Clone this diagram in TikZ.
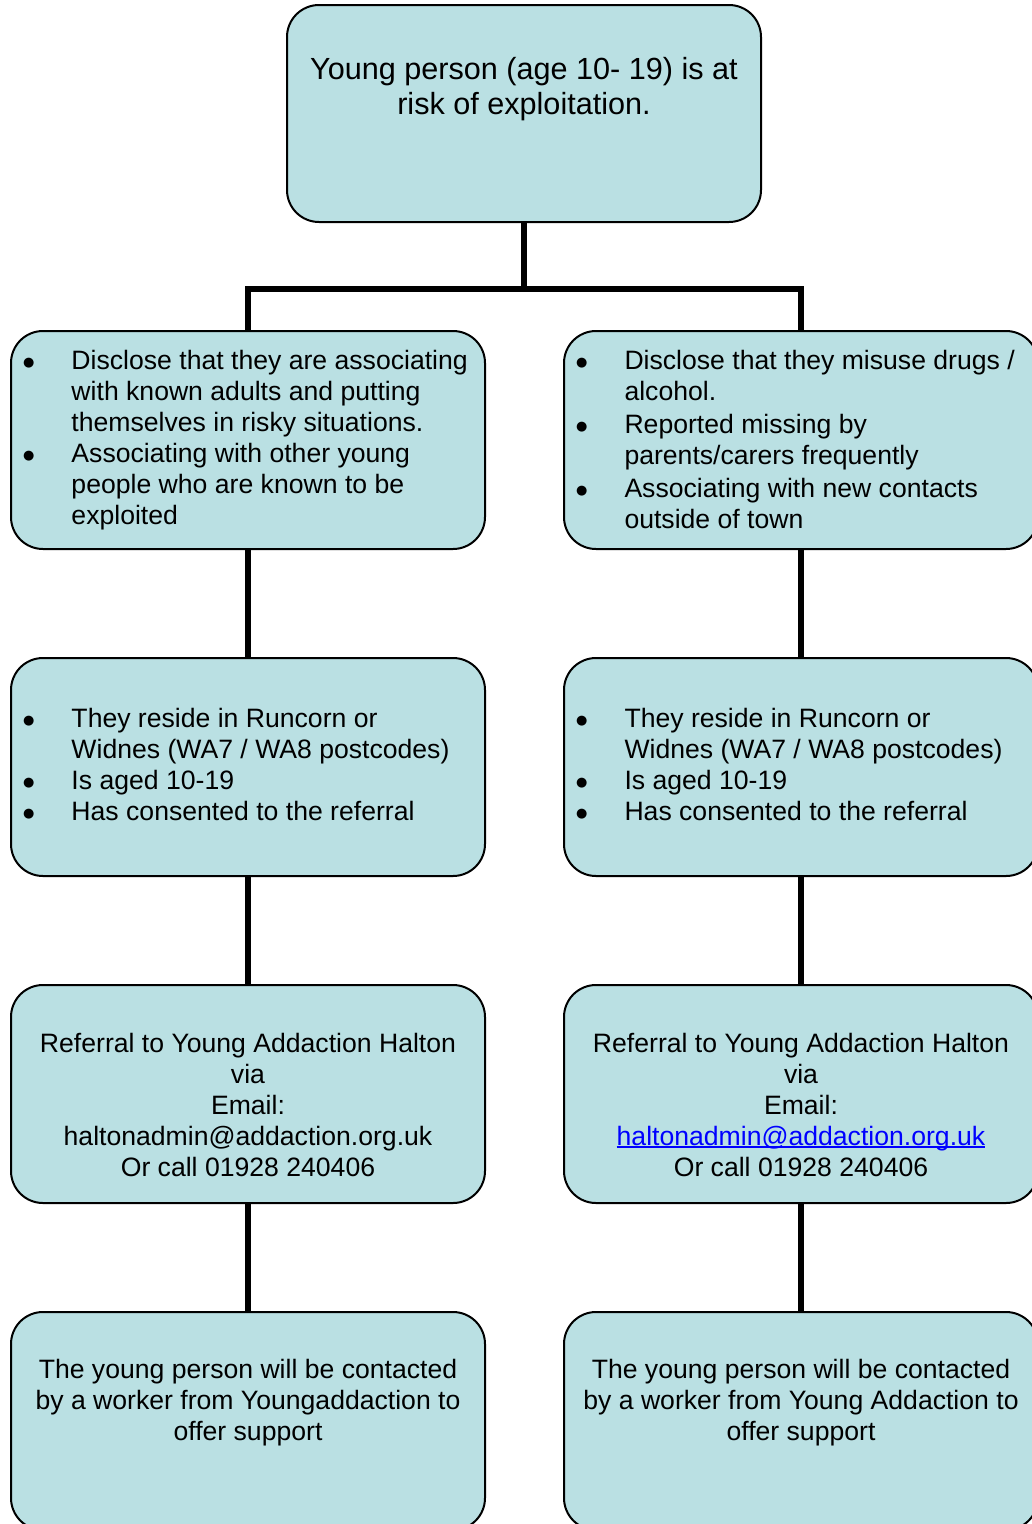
\documentclass[tikz,border=0pt]{standalone}
\usepackage{fontspec}
\setmainfont{Liberation Sans}
\newfontfamily\dotfont{DejaVu Sans}
\usepackage{xcolor}
\definecolor{Pale}{HTML}{BAE0E3}
\definecolor{Link}{HTML}{0000FF}
\usepackage{tikz}
\usetikzlibrary{positioning}
\newcommand{\midlines}[1]{\begin{tabular}[t]{@{}c@{}}#1\end{tabular}}
\newcommand{\dotlines}[1]{\begin{tabular}[t]{@{}l@{\hspace{38pt}}l@{}}#1\end{tabular}}
\newcommand{\blob}{\makebox[9.3pt][c]{\raisebox{3pt}{\dotfont\fontsize{13}{31}\selectfont ●}}}
\newcommand{\weblink}[1]{{\color{Link}\setbox0\hbox{#1}\rlap{\rule[-3pt]{\wd0}{1.6pt}}\box0}}

\begin{document}
\begin{tikzpicture}[x=1pt,y=-1pt,
  node distance=109pt and 79pt,
  stage/.style={draw=black,line width=2pt,rounded corners=32pt,fill=Pale,minimum width=474pt,minimum height=218pt,inner sep=0pt,outer sep=0pt},
  wire/.style={line width=5.5pt},
  txt/.style={inner sep=0pt,font=\fontsize{26.6}{31}\selectfont},
  lead/.style={txt,anchor=base west},
  mid/.style={txt,anchor=base}
]
\useasboundingbox (0,0) rectangle (1032,1524);
\clip (0,0) rectangle (1032,1524);

% boxes
\node[stage,minimum height=217pt] (risk) at (524,113.5) {};
\node[stage] (signsl) at (248,440) {};
\node[stage] (signsr) at (801,440) {};
\node[stage,below=of signsl] (criterial) {};
\node[stage,below=of signsr] (criteriar) {};
\node[stage,below=of criterial] (referl) {};
\node[stage,below=of criteriar] (referr) {};
\node[stage,below=of referl] (supportl) {};
\node[stage,below=of referr] (supportr) {};

% connectors
\coordinate (split) at (524,289);
\draw[wire] (risk) -- (split);
\draw[wire] (signsl.north) |- (split) -| (signsr.north);
\draw[wire] (signsl) -- (criterial);
\draw[wire] (criterial) -- (referl);
\draw[wire] (referl) -- (supportl);
\draw[wire] (signsr) -- (criteriar);
\draw[wire] (criteriar) -- (referr);
\draw[wire] (referr) -- (supportr);

% texts
\node[mid,font=\fontsize{30.6}{35}\selectfont] (risktxt) at ([shift={(0,74)}]risk.north)
  {\midlines{Young person (age 10- 19) is at\\risk of exploitation.}};

\node[lead] (signsltxt) at ([shift={(13,38)}]signsl.north west) {\dotlines{%
  \blob & Disclose that they are associating\\
  & with known adults and putting\\
  & themselves in risky situations.\\
  \blob & Associating with other young\\
  & people who are known to be\\
  & exploited}};
\node[lead] (signsrtxt) at ([shift={(13,38)}]signsr.north west) {\dotlines{%
  \blob & Disclose that they misuse drugs /\\
  & alcohol.\\[2pt]
  \blob & Reported missing by\\
  & parents/carers frequently\\[2pt]
  \blob & Associating with new contacts\\
  & outside of town}};

\node[lead] (criterialtxt) at ([shift={(13,69)}]criterial.north west) {\dotlines{%
  \blob & They reside in Runcorn or\\
  & Widnes (WA7 / WA8 postcodes)\\
  \blob & Is aged 10-19\\
  \blob & Has consented to the referral}};
\node[lead] (criteriartxt) at ([shift={(13,69)}]criteriar.north west) {\dotlines{%
  \blob & They reside in Runcorn or\\
  & Widnes (WA7 / WA8 postcodes)\\
  \blob & Is aged 10-19\\
  \blob & Has consented to the referral}};

\node[mid] (referltxt) at ([shift={(0,67)}]referl.north)
  {\midlines{Referral to Young Addaction Halton\\via\\Email:\\haltonadmin@addaction.org.uk\\Or call 01928 240406}};
\node[mid] (referrtxt) at ([shift={(0,67)}]referr.north)
  {\midlines{Referral to Young Addaction Halton\\via\\Email:\\\weblink{haltonadmin@addaction.org.uk}\\Or call 01928 240406}};

\node[mid] (supportltxt) at ([shift={(0,66)}]supportl.north)
  {\midlines{The young person will be contacted\\by a worker from Youngaddaction to\\offer support}};
\node[mid] (supportrtxt) at ([shift={(0,66)}]supportr.north)
  {\midlines{The young person will be contacted\\by a worker from Young Addaction to\\offer support}};
\end{tikzpicture}
\end{document}
